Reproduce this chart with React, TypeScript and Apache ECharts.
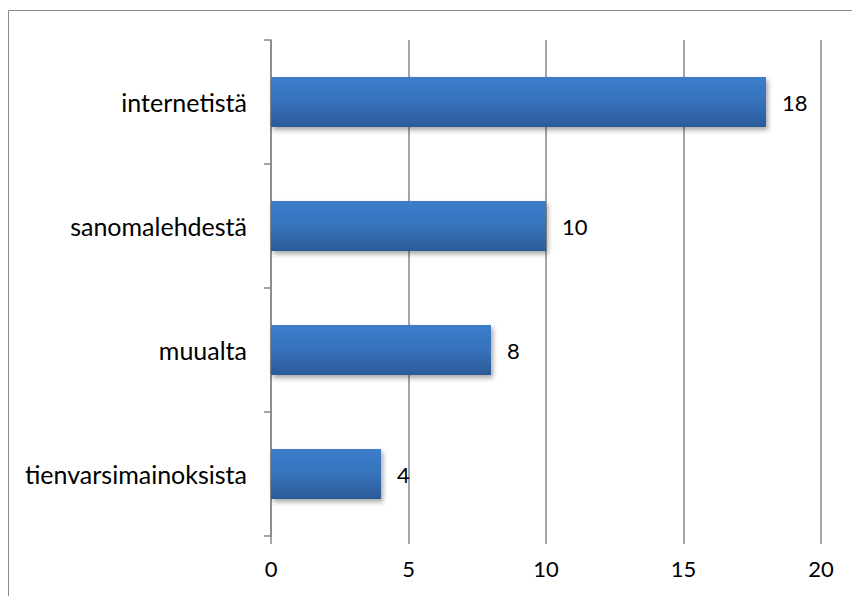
import React, { useEffect, useRef } from "react";
import * as echarts from "echarts";

// Where respondents heard about it (counts)
const categories = ["tienvarsimainoksista", "muualta", "sanomalehdestä", "internetistä"];
const counts = [4, 8, 10, 18];
const valueTicks = { min: 0, max: 20, interval: 5 };

const AXIS_GRAY = "#878787";
const FONT = "Lato, 'Open Sans', sans-serif";

export default function App() {
  const ref = useRef<HTMLDivElement>(null);

  useEffect(() => {
    if (!ref.current) return;
    const chart = echarts.init(ref.current, null, { renderer: "svg" });
    chart.setOption({
      animation: false,
      backgroundColor: "#ffffff",
      textStyle: { fontFamily: FONT },
      graphic: [
        {
          type: "rect",
          silent: true,
          shape: { x: 8.5, y: 10.5, width: 1000, height: 800 },
          style: { fill: "none", stroke: "#8c8c8c", lineWidth: 1 },
        },
      ],
      grid: { left: 271, right: 31, top: 40, bottom: 60, containLabel: false },
      xAxis: {
        type: "value",
        min: valueTicks.min,
        max: valueTicks.max,
        interval: valueTicks.interval,
        axisLine: { show: false },
        axisTick: { show: true, length: 8, lineStyle: { color: AXIS_GRAY, width: 1.5 } },
        splitLine: { show: true, lineStyle: { color: AXIS_GRAY, width: 1.5 } },
        axisLabel: { color: "#000", fontSize: 22, fontFamily: FONT, margin: 21 },
      },
      yAxis: {
        type: "category",
        data: categories,
        axisLine: { show: true, lineStyle: { color: AXIS_GRAY, width: 1.5 } },
        axisTick: { show: true, length: 7, lineStyle: { color: AXIS_GRAY, width: 1.5 } },
        splitLine: { show: false },
        axisLabel: { color: "#000", fontSize: 25, fontFamily: FONT, margin: 24 },
      },
      series: [
        {
          type: "bar",
          data: counts,
          barWidth: 50,
          itemStyle: {
            color: new echarts.graphic.LinearGradient(0, 0, 0, 1, [
              { offset: 0, color: "#3c7dcc" },
              { offset: 0.5, color: "#3672bb" },
              { offset: 1, color: "#2b5a98" },
            ]),
            shadowColor: "rgba(0,0,0,0.35)",
            shadowBlur: 5,
            shadowOffsetX: 2,
            shadowOffsetY: 3,
          },
          label: {
            show: true,
            position: "right",
            distance: 16,
            color: "#000",
            fontSize: 22,
            fontFamily: FONT,
          },
        },
      ],
    });
    return () => chart.dispose();
  }, []);

  return (
    <div
      ref={ref}
      style={{ position: "absolute", left: 0, top: 0, width: 852, height: 596 }}
    />
  );
}
